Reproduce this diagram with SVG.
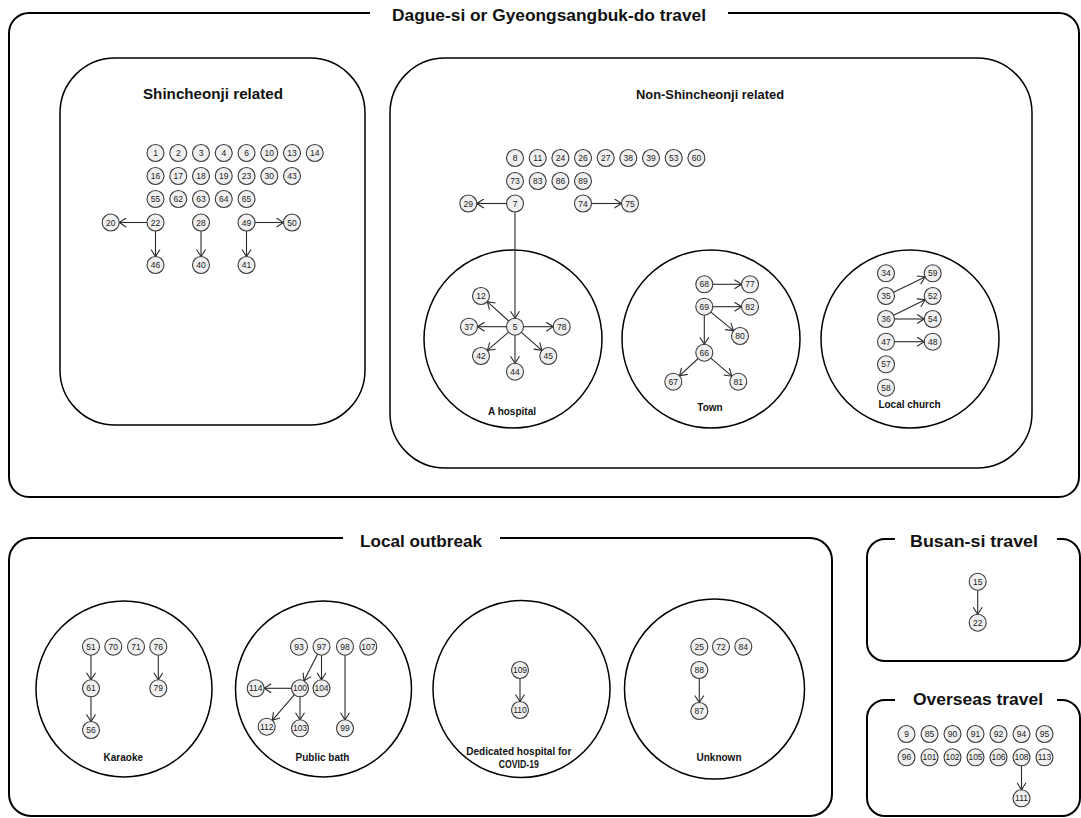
<svg xmlns="http://www.w3.org/2000/svg" width="1081" height="818" viewBox="0 0 1081 818">
<style>
.n circle{fill:#f0f0f0;stroke:#3a3a3a;stroke-width:1.1}
.n text{font-family:"Liberation Sans",Arial,sans-serif;font-size:8.5px;fill:#222;text-anchor:middle}
.frame{fill:none;stroke:#000;stroke-width:2}
.box{fill:none;stroke:#000;stroke-width:1.5}
.title{font-family:"Liberation Sans",Arial,sans-serif;font-weight:bold;font-size:17px;fill:#111;text-anchor:middle}
.sub{font-family:"Liberation Sans",Arial,sans-serif;font-weight:bold;fill:#111;text-anchor:middle}
.lbl{font-family:"Liberation Sans",Arial,sans-serif;font-weight:bold;font-size:10px;fill:#111;text-anchor:middle}
.e line{stroke:#2a2a2a;stroke-width:1.1;fill:none}
</style>
<defs>
<marker id="ah" viewBox="0 0 10 10" refX="9.5" refY="5" markerWidth="10" markerHeight="10" orient="auto" markerUnits="userSpaceOnUse">
<path d="M2.5,0.5 L9.5,5 L2.5,9.5" fill="none" stroke="#2a2a2a" stroke-width="1.1"/>
</marker>
</defs>
<rect width="1081" height="818" fill="#fff"/>

<!-- Section frames -->
<g id="frame-daegu">
<path class="frame" d="M728 13 H1059 A20 20 0 0 1 1079 33 V477 A20 20 0 0 1 1059 497 H29 A20 20 0 0 1 9 477 V33 A20 20 0 0 1 29 13 H370"/>
<text class="title" x="549" y="20.5" textLength="314" lengthAdjust="spacingAndGlyphs">Dague-si or Gyeongsangbuk-do travel</text>
</g>
<g id="frame-local">
<path class="frame" d="M500 538 H810 A22 22 0 0 1 832 560 V794 A22 22 0 0 1 810 816 H31 A22 22 0 0 1 9 794 V560 A22 22 0 0 1 31 538 H343"/>
<text class="title" x="421" y="547" textLength="122" lengthAdjust="spacingAndGlyphs">Local outbreak</text>
</g>
<g id="frame-busan">
<path class="frame" d="M1057 539 H1062 A18 18 0 0 1 1080 557 V643 A18 18 0 0 1 1062 661 H885 A18 18 0 0 1 867 643 V557 A18 18 0 0 1 885 539 H895"/>
<text class="title" x="974" y="547" textLength="128" lengthAdjust="spacingAndGlyphs">Busan-si travel</text>
</g>
<g id="frame-overseas">
<path class="frame" d="M1057 700 H1062 A18 18 0 0 1 1080 718 V798 A18 18 0 0 1 1062 816 H885 A18 18 0 0 1 867 798 V718 A18 18 0 0 1 885 700 H895"/>
<text class="title" x="978" y="705" textLength="130" lengthAdjust="spacingAndGlyphs">Overseas travel</text>
</g>

<!-- Sub-group boxes -->
<g id="box-shincheonji">
<rect class="box" x="60" y="58" width="305" height="367" rx="55" ry="55"/>
<text class="sub" x="213" y="99" font-size="15" textLength="140" lengthAdjust="spacingAndGlyphs">Shincheonji related</text>
</g>
<g id="box-non-shincheonji">
<rect class="box" x="390" y="58" width="642" height="410" rx="55" ry="55"/>
<text class="sub" x="710" y="99" font-size="13" textLength="148" lengthAdjust="spacingAndGlyphs">Non-Shincheonji related</text>
</g>
<g id="cl-hospital"><circle class="box" cx="513" cy="339" r="89"/><text class="lbl" x="512" y="414.5">A hospital</text></g>
<g id="cl-town"><circle class="box" cx="711" cy="339" r="89"/><text class="lbl" x="710" y="410.5">Town</text></g>
<g id="cl-church"><circle class="box" cx="910" cy="339" r="89"/><text class="lbl" x="909.5" y="407.5">Local church</text></g>
<g id="cl-karaoke"><circle class="box" cx="124" cy="689" r="88"/><text class="lbl" x="123.3" y="760.5">Karaoke</text></g>
<g id="cl-bath"><circle class="box" cx="323.5" cy="689" r="88"/><text class="lbl" x="322.5" y="760.5">Public bath</text></g>
<g id="cl-dedicated"><circle class="box" cx="521.5" cy="689" r="88.5"/><text class="lbl" x="518.8" y="754.5">Dedicated hospital for</text><text class="lbl" x="518.8" y="768" textLength="40" lengthAdjust="spacingAndGlyphs">COVID-19</text></g>
<g id="cl-unknown"><circle class="box" cx="714.5" cy="689" r="90"/><text class="lbl" x="719" y="760.5">Unknown</text></g>

<!-- Connectors -->
<g id="connectors" class="e">
<line x1="147" y1="222.5" x2="119.2" y2="222.5" marker-end="url(#ah)"/>
<line x1="155.5" y1="231" x2="155.5" y2="256.5" marker-end="url(#ah)"/>
<line x1="201" y1="231" x2="201" y2="256.5" marker-end="url(#ah)"/>
<line x1="255" y1="222.5" x2="283.5" y2="222.5" marker-end="url(#ah)"/>
<line x1="246.5" y1="231" x2="246.5" y2="256.5" marker-end="url(#ah)"/>
<line x1="506.5" y1="203.5" x2="476.8" y2="203.5" marker-end="url(#ah)"/>
<line x1="591.5" y1="203.5" x2="621.5" y2="203.5" marker-end="url(#ah)"/>
<line x1="515" y1="212" x2="515" y2="318.2" marker-end="url(#ah)"/>
<line x1="508.7" y1="321" x2="487.3" y2="301.7" marker-end="url(#ah)"/>
<line x1="506.5" y1="326.7" x2="477.5" y2="326.7" marker-end="url(#ah)"/>
<line x1="523.5" y1="326.7" x2="553.2" y2="326.7" marker-end="url(#ah)"/>
<line x1="508.6" y1="332.2" x2="487.4" y2="350.4" marker-end="url(#ah)"/>
<line x1="521.4" y1="332.3" x2="541.9" y2="350.4" marker-end="url(#ah)"/>
<line x1="515" y1="335.2" x2="515" y2="363.2" marker-end="url(#ah)"/>
<line x1="712.8" y1="284.3" x2="741.5" y2="284.3" marker-end="url(#ah)"/>
<line x1="712.8" y1="306.7" x2="741.5" y2="306.7" marker-end="url(#ah)"/>
<line x1="710.9" y1="312.1" x2="733.4" y2="330.6" marker-end="url(#ah)"/>
<line x1="704.3" y1="315.2" x2="704.3" y2="344.2" marker-end="url(#ah)"/>
<line x1="698.1" y1="358.5" x2="679.5" y2="375.9" marker-end="url(#ah)"/>
<line x1="710.8" y1="358.2" x2="731.8" y2="376.2" marker-end="url(#ah)"/>
<line x1="893.6" y1="292.3" x2="925" y2="277" marker-end="url(#ah)"/>
<line x1="893.6" y1="315.2" x2="925.1" y2="299.8" marker-end="url(#ah)"/>
<line x1="894.5" y1="319" x2="924.2" y2="319" marker-end="url(#ah)"/>
<line x1="894.5" y1="341.7" x2="924.2" y2="341.7" marker-end="url(#ah)"/>
<line x1="91" y1="655.2" x2="91" y2="679.8" marker-end="url(#ah)"/>
<line x1="91" y1="696.8" x2="91" y2="721.5" marker-end="url(#ah)"/>
<line x1="158.3" y1="655.2" x2="158.3" y2="679.8" marker-end="url(#ah)"/>
<line x1="317.6" y1="654.2" x2="303.9" y2="680.8" marker-end="url(#ah)"/>
<line x1="321.5" y1="655.2" x2="321.5" y2="679.8" marker-end="url(#ah)"/>
<line x1="345" y1="655.2" x2="345" y2="719.8" marker-end="url(#ah)"/>
<line x1="291.5" y1="688.3" x2="264.2" y2="688.3" marker-end="url(#ah)"/>
<line x1="294.4" y1="694.7" x2="272.3" y2="720.3" marker-end="url(#ah)"/>
<line x1="300" y1="696.8" x2="300" y2="719.8" marker-end="url(#ah)"/>
<line x1="520" y1="678.5" x2="520" y2="701.5" marker-end="url(#ah)"/>
<line x1="699.3" y1="678.5" x2="699.3" y2="702.5" marker-end="url(#ah)"/>
<line x1="977.7" y1="590.2" x2="977.7" y2="614.2" marker-end="url(#ah)"/>
<line x1="1021.5" y1="765.8" x2="1021.5" y2="789.8" marker-end="url(#ah)"/>
</g>

<!-- Nodes: Shincheonji related -->
<g id="shin-1" class="n"><circle cx="155.5" cy="153" r="8.5"/><text x="155.5" y="156">1</text></g>
<g id="shin-2" class="n"><circle cx="178.25" cy="153" r="8.5"/><text x="178.25" y="156">2</text></g>
<g id="shin-3" class="n"><circle cx="201" cy="153" r="8.5"/><text x="201" y="156">3</text></g>
<g id="shin-4" class="n"><circle cx="223.75" cy="153" r="8.5"/><text x="223.75" y="156">4</text></g>
<g id="shin-6" class="n"><circle cx="246.5" cy="153" r="8.5"/><text x="246.5" y="156">6</text></g>
<g id="shin-10" class="n"><circle cx="269.25" cy="153" r="8.5"/><text x="269.25" y="156">10</text></g>
<g id="shin-13" class="n"><circle cx="292" cy="153" r="8.5"/><text x="292" y="156">13</text></g>
<g id="shin-14" class="n"><circle cx="314.75" cy="153" r="8.5"/><text x="314.75" y="156">14</text></g>
<g id="shin-16" class="n"><circle cx="155.5" cy="176" r="8.5"/><text x="155.5" y="179">16</text></g>
<g id="shin-17" class="n"><circle cx="178.25" cy="176" r="8.5"/><text x="178.25" y="179">17</text></g>
<g id="shin-18" class="n"><circle cx="201" cy="176" r="8.5"/><text x="201" y="179">18</text></g>
<g id="shin-19" class="n"><circle cx="223.75" cy="176" r="8.5"/><text x="223.75" y="179">19</text></g>
<g id="shin-23" class="n"><circle cx="246.5" cy="176" r="8.5"/><text x="246.5" y="179">23</text></g>
<g id="shin-30" class="n"><circle cx="269.25" cy="176" r="8.5"/><text x="269.25" y="179">30</text></g>
<g id="shin-43" class="n"><circle cx="292" cy="176" r="8.5"/><text x="292" y="179">43</text></g>
<g id="shin-55" class="n"><circle cx="155.5" cy="199" r="8.5"/><text x="155.5" y="202">55</text></g>
<g id="shin-62" class="n"><circle cx="178.25" cy="199" r="8.5"/><text x="178.25" y="202">62</text></g>
<g id="shin-63" class="n"><circle cx="201" cy="199" r="8.5"/><text x="201" y="202">63</text></g>
<g id="shin-64" class="n"><circle cx="223.75" cy="199" r="8.5"/><text x="223.75" y="202">64</text></g>
<g id="shin-65" class="n"><circle cx="246.5" cy="199" r="8.5"/><text x="246.5" y="202">65</text></g>
<g id="shin-20" class="n"><circle cx="110.7" cy="222.5" r="8.5"/><text x="110.7" y="225.5">20</text></g>
<g id="shin-22" class="n"><circle cx="155.5" cy="222.5" r="8.5"/><text x="155.5" y="225.5">22</text></g>
<g id="shin-28" class="n"><circle cx="201" cy="222.5" r="8.5"/><text x="201" y="225.5">28</text></g>
<g id="shin-49" class="n"><circle cx="246.5" cy="222.5" r="8.5"/><text x="246.5" y="225.5">49</text></g>
<g id="shin-50" class="n"><circle cx="292" cy="222.5" r="8.5"/><text x="292" y="225.5">50</text></g>
<g id="shin-46" class="n"><circle cx="155.5" cy="265" r="8.5"/><text x="155.5" y="268">46</text></g>
<g id="shin-40" class="n"><circle cx="201" cy="265" r="8.5"/><text x="201" y="268">40</text></g>
<g id="shin-41" class="n"><circle cx="246.5" cy="265" r="8.5"/><text x="246.5" y="268">41</text></g>

<!-- Nodes: Non-Shincheonji related -->
<g id="non-8" class="n"><circle cx="515" cy="158" r="8.5"/><text x="515" y="161">8</text></g>
<g id="non-11" class="n"><circle cx="537.7" cy="158" r="8.5"/><text x="537.7" y="161">11</text></g>
<g id="non-24" class="n"><circle cx="560.4" cy="158" r="8.5"/><text x="560.4" y="161">24</text></g>
<g id="non-26" class="n"><circle cx="583" cy="158" r="8.5"/><text x="583" y="161">26</text></g>
<g id="non-27" class="n"><circle cx="605.7" cy="158" r="8.5"/><text x="605.7" y="161">27</text></g>
<g id="non-38" class="n"><circle cx="628.3" cy="158" r="8.5"/><text x="628.3" y="161">38</text></g>
<g id="non-39" class="n"><circle cx="651" cy="158" r="8.5"/><text x="651" y="161">39</text></g>
<g id="non-53" class="n"><circle cx="673.7" cy="158" r="8.5"/><text x="673.7" y="161">53</text></g>
<g id="non-60" class="n"><circle cx="696.4" cy="158" r="8.5"/><text x="696.4" y="161">60</text></g>
<g id="non-73" class="n"><circle cx="515" cy="181" r="8.5"/><text x="515" y="184">73</text></g>
<g id="non-83" class="n"><circle cx="537.7" cy="181" r="8.5"/><text x="537.7" y="184">83</text></g>
<g id="non-86" class="n"><circle cx="560.4" cy="181" r="8.5"/><text x="560.4" y="184">86</text></g>
<g id="non-89" class="n"><circle cx="583" cy="181" r="8.5"/><text x="583" y="184">89</text></g>
<g id="non-29" class="n"><circle cx="468.3" cy="203.5" r="8.5"/><text x="468.3" y="206.5">29</text></g>
<g id="non-7" class="n"><circle cx="515" cy="203.5" r="8.5"/><text x="515" y="206.5">7</text></g>
<g id="non-74" class="n"><circle cx="583" cy="203.5" r="8.5"/><text x="583" y="206.5">74</text></g>
<g id="non-75" class="n"><circle cx="630" cy="203.5" r="8.5"/><text x="630" y="206.5">75</text></g>

<!-- A hospital -->
<g id="hosp-5" class="n"><circle cx="515" cy="326.7" r="8.5"/><text x="515" y="329.7">5</text></g>
<g id="hosp-12" class="n"><circle cx="481" cy="296" r="8.5"/><text x="481" y="299">12</text></g>
<g id="hosp-37" class="n"><circle cx="469" cy="326.7" r="8.5"/><text x="469" y="329.7">37</text></g>
<g id="hosp-78" class="n"><circle cx="561.7" cy="326.7" r="8.5"/><text x="561.7" y="329.7">78</text></g>
<g id="hosp-42" class="n"><circle cx="481" cy="356" r="8.5"/><text x="481" y="359">42</text></g>
<g id="hosp-45" class="n"><circle cx="548.3" cy="356" r="8.5"/><text x="548.3" y="359">45</text></g>
<g id="hosp-44" class="n"><circle cx="515" cy="371.7" r="8.5"/><text x="515" y="374.7">44</text></g>

<!-- Town -->
<g id="town-68" class="n"><circle cx="704.3" cy="284.3" r="8.5"/><text x="704.3" y="287.3">68</text></g>
<g id="town-77" class="n"><circle cx="750" cy="284.3" r="8.5"/><text x="750" y="287.3">77</text></g>
<g id="town-69" class="n"><circle cx="704.3" cy="306.7" r="8.5"/><text x="704.3" y="309.7">69</text></g>
<g id="town-82" class="n"><circle cx="750" cy="306.7" r="8.5"/><text x="750" y="309.7">82</text></g>
<g id="town-80" class="n"><circle cx="740" cy="336" r="8.5"/><text x="740" y="339">80</text></g>
<g id="town-66" class="n"><circle cx="704.3" cy="352.7" r="8.5"/><text x="704.3" y="355.7">66</text></g>
<g id="town-67" class="n"><circle cx="673.3" cy="381.7" r="8.5"/><text x="673.3" y="384.7">67</text></g>
<g id="town-81" class="n"><circle cx="738.3" cy="381.7" r="8.5"/><text x="738.3" y="384.7">81</text></g>

<!-- Local church -->
<g id="church-34" class="n"><circle cx="886" cy="273.3" r="8.5"/><text x="886" y="276.3">34</text></g>
<g id="church-59" class="n"><circle cx="932.7" cy="273.3" r="8.5"/><text x="932.7" y="276.3">59</text></g>
<g id="church-35" class="n"><circle cx="886" cy="296" r="8.5"/><text x="886" y="299">35</text></g>
<g id="church-52" class="n"><circle cx="932.7" cy="296" r="8.5"/><text x="932.7" y="299">52</text></g>
<g id="church-36" class="n"><circle cx="886" cy="319" r="8.5"/><text x="886" y="322">36</text></g>
<g id="church-54" class="n"><circle cx="932.7" cy="319" r="8.5"/><text x="932.7" y="322">54</text></g>
<g id="church-47" class="n"><circle cx="886" cy="341.7" r="8.5"/><text x="886" y="344.7">47</text></g>
<g id="church-48" class="n"><circle cx="932.7" cy="341.7" r="8.5"/><text x="932.7" y="344.7">48</text></g>
<g id="church-57" class="n"><circle cx="886" cy="364.3" r="8.5"/><text x="886" y="367.3">57</text></g>
<g id="church-58" class="n"><circle cx="886" cy="387.7" r="8.5"/><text x="886" y="390.7">58</text></g>

<!-- Karaoke -->
<g id="kar-51" class="n"><circle cx="91" cy="646.7" r="8.5"/><text x="91" y="649.7">51</text></g>
<g id="kar-70" class="n"><circle cx="113.3" cy="646.7" r="8.5"/><text x="113.3" y="649.7">70</text></g>
<g id="kar-71" class="n"><circle cx="136" cy="646.7" r="8.5"/><text x="136" y="649.7">71</text></g>
<g id="kar-76" class="n"><circle cx="158.3" cy="646.7" r="8.5"/><text x="158.3" y="649.7">76</text></g>
<g id="kar-61" class="n"><circle cx="91" cy="688.3" r="8.5"/><text x="91" y="691.3">61</text></g>
<g id="kar-79" class="n"><circle cx="158.3" cy="688.3" r="8.5"/><text x="158.3" y="691.3">79</text></g>
<g id="kar-56" class="n"><circle cx="91" cy="730" r="8.5"/><text x="91" y="733">56</text></g>

<!-- Public bath -->
<g id="bath-93" class="n"><circle cx="299" cy="646.7" r="8.5"/><text x="299" y="649.7">93</text></g>
<g id="bath-97" class="n"><circle cx="321.5" cy="646.7" r="8.5"/><text x="321.5" y="649.7">97</text></g>
<g id="bath-98" class="n"><circle cx="345" cy="646.7" r="8.5"/><text x="345" y="649.7">98</text></g>
<g id="bath-107" class="n"><circle cx="368.3" cy="646.7" r="8.5"/><text x="368.3" y="649.7">107</text></g>
<g id="bath-114" class="n"><circle cx="255.7" cy="688.3" r="8.5"/><text x="255.7" y="691.3">114</text></g>
<g id="bath-100" class="n"><circle cx="300" cy="688.3" r="8.5"/><text x="300" y="691.3">100</text></g>
<g id="bath-104" class="n"><circle cx="321.5" cy="688.3" r="8.5"/><text x="321.5" y="691.3">104</text></g>
<g id="bath-112" class="n"><circle cx="266.7" cy="726.7" r="8.5"/><text x="266.7" y="729.7">112</text></g>
<g id="bath-103" class="n"><circle cx="300" cy="728.3" r="8.5"/><text x="300" y="731.3">103</text></g>
<g id="bath-99" class="n"><circle cx="345" cy="728.3" r="8.5"/><text x="345" y="731.3">99</text></g>

<!-- Dedicated hospital -->
<g id="ded-109" class="n"><circle cx="520" cy="670" r="8.5"/><text x="520" y="673">109</text></g>
<g id="ded-110" class="n"><circle cx="520" cy="710" r="8.5"/><text x="520" y="713">110</text></g>

<!-- Unknown -->
<g id="unk-25" class="n"><circle cx="699.3" cy="646.7" r="8.5"/><text x="699.3" y="649.7">25</text></g>
<g id="unk-72" class="n"><circle cx="721" cy="646.7" r="8.5"/><text x="721" y="649.7">72</text></g>
<g id="unk-84" class="n"><circle cx="743.3" cy="646.7" r="8.5"/><text x="743.3" y="649.7">84</text></g>
<g id="unk-88" class="n"><circle cx="699.3" cy="670" r="8.5"/><text x="699.3" y="673">88</text></g>
<g id="unk-87" class="n"><circle cx="699.3" cy="711" r="8.5"/><text x="699.3" y="714">87</text></g>

<!-- Busan -->
<g id="busan-15" class="n"><circle cx="977.7" cy="581.7" r="8.5"/><text x="977.7" y="584.7">15</text></g>
<g id="busan-22" class="n"><circle cx="977.7" cy="622.7" r="8.5"/><text x="977.7" y="625.7">22</text></g>

<!-- Overseas -->
<g id="ov-9" class="n"><circle cx="906.5" cy="734" r="8.5"/><text x="906.5" y="737">9</text></g>
<g id="ov-85" class="n"><circle cx="929.5" cy="734" r="8.5"/><text x="929.5" y="737">85</text></g>
<g id="ov-90" class="n"><circle cx="952.5" cy="734" r="8.5"/><text x="952.5" y="737">90</text></g>
<g id="ov-91" class="n"><circle cx="975.5" cy="734" r="8.5"/><text x="975.5" y="737">91</text></g>
<g id="ov-92" class="n"><circle cx="998.5" cy="734" r="8.5"/><text x="998.5" y="737">92</text></g>
<g id="ov-94" class="n"><circle cx="1021.5" cy="734" r="8.5"/><text x="1021.5" y="737">94</text></g>
<g id="ov-95" class="n"><circle cx="1044.5" cy="734" r="8.5"/><text x="1044.5" y="737">95</text></g>
<g id="ov-96" class="n"><circle cx="906.5" cy="757.3" r="8.5"/><text x="906.5" y="760.3">96</text></g>
<g id="ov-101" class="n"><circle cx="929.5" cy="757.3" r="8.5"/><text x="929.5" y="760.3">101</text></g>
<g id="ov-102" class="n"><circle cx="952.5" cy="757.3" r="8.5"/><text x="952.5" y="760.3">102</text></g>
<g id="ov-105" class="n"><circle cx="975.5" cy="757.3" r="8.5"/><text x="975.5" y="760.3">105</text></g>
<g id="ov-106" class="n"><circle cx="998.5" cy="757.3" r="8.5"/><text x="998.5" y="760.3">106</text></g>
<g id="ov-108" class="n"><circle cx="1021.5" cy="757.3" r="8.5"/><text x="1021.5" y="760.3">108</text></g>
<g id="ov-113" class="n"><circle cx="1044.5" cy="757.3" r="8.5"/><text x="1044.5" y="760.3">113</text></g>
<g id="ov-111" class="n"><circle cx="1021.5" cy="798.3" r="8.5"/><text x="1021.5" y="801.3">111</text></g>
</svg>
